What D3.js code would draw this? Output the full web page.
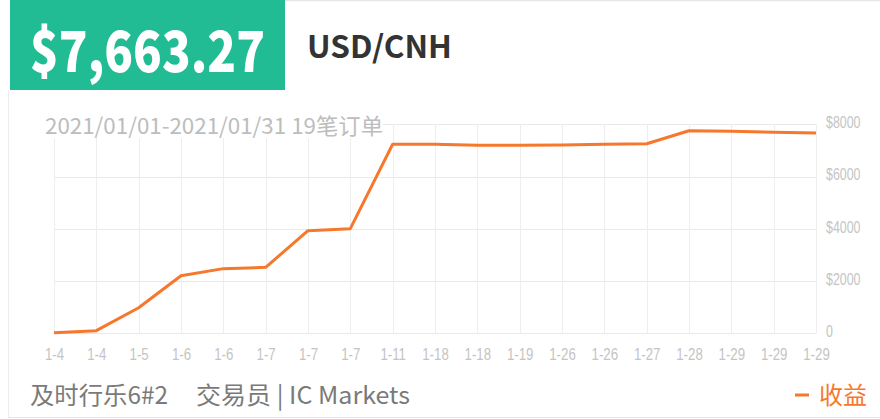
<!DOCTYPE html>
<html>
<head>
<meta charset="utf-8">
<script src="https://cdn.jsdelivr.net/npm/d3@7/dist/d3.min.js"></script>
<style>
  html, body { margin: 0; padding: 0; background: #fff; }
  svg { display: block; }
</style>
</head>
<body>
<svg id="chart" width="880" height="419"></svg>
<script>
// Cumulative profit per closed order, January 2021
const dateLabels = ["1-4","1-4","1-5","1-6","1-6","1-7","1-7","1-7","1-11","1-18",
                    "1-18","1-19","1-26","1-26","1-27","1-28","1-29","1-29","1-29"];
const profitValues = [25, 100, 980, 2205, 2475, 2525, 3930, 4005, 7235, 7240,
                      7195, 7195, 7210, 7235, 7255, 7755, 7730, 7695, 7663.27];
const yTicks = [0, 2000, 4000, 6000, 8000];
const yTickLabels = ["0", "$2000", "$4000", "$6000", "$8000"];
const totalLabel = "$7,663.27";
const symbolLabel = "USD/CNH";
const rangeLabel = "2021/01/01-2021/01/31 19笔订单";
const traderName = "及时行乐6#2";
const traderRole = "交易员 | IC Markets";
const legendLabel = "收益";

const svg = d3.select("#chart");
const CJK = "'Noto Sans CJK SC', 'Noto Sans', sans-serif";
const TICK = "'Liberation Sans', Arial, sans-serif";
const ORANGE = "#f5782d";

// card frame
svg.append("line").attr("x1", 285).attr("x2", 880).attr("y1", 0.5).attr("y2", 0.5)
  .attr("stroke", "#e6e6e6").attr("stroke-width", 1.5);
svg.append("line").attr("x1", 8.5).attr("x2", 8.5).attr("y1", 90).attr("y2", 417.5)
  .attr("stroke", "#ececec");
svg.append("line").attr("x1", 8).attr("x2", 880).attr("y1", 417.5).attr("y2", 417.5)
  .attr("stroke", "#e6e6e6");

// header
svg.append("rect").attr("x", 10).attr("y", 0).attr("width", 275).attr("height", 90)
  .attr("fill", "#21bc93");
svg.append("text").attr("x", 30).attr("y", 72)
  .attr("font-family", CJK).attr("font-weight", 900).attr("font-size", 57)
  .attr("textLength", 235).attr("lengthAdjust", "spacingAndGlyphs")
  .attr("fill", "#fff").text(totalLabel);
svg.append("text").attr("x", 307).attr("y", 58)
  .attr("font-family", CJK).attr("font-weight", 700).attr("font-size", 31)
  .attr("textLength", 145).attr("lengthAdjust", "spacingAndGlyphs")
  .attr("fill", "#333").text(symbolLabel);

// scales
const x = d3.scalePoint().domain(d3.range(dateLabels.length)).range([54, 816]);
const y = d3.scaleLinear().domain([0, 8000]).range([333.3, 124.3]);

// grid
const grid = svg.append("g");
grid.selectAll("line.h").data(yTicks).join("line")
  .attr("x1", 54).attr("x2", 816)
  .attr("y1", d => Math.round(y(d)) + 0.5).attr("y2", d => Math.round(y(d)) + 0.5)
  .attr("stroke", "#e9e9e9");
grid.selectAll("line.v").data(d3.range(dateLabels.length)).join("line")
  .attr("x1", i => Math.round(x(i)) + 0.5).attr("x2", i => Math.round(x(i)) + 0.5)
  .attr("y1", y(8000)).attr("y2", y(0))
  .attr("stroke", "#eeeeee");

// right axis labels (condensed)
const yAxis = d3.axisRight(y).tickValues(yTicks)
  .tickFormat((d, i) => yTickLabels[i]).tickSize(0).tickPadding(0);
const ya = svg.append("g").attr("transform", "translate(826,-2)").call(yAxis);
ya.select(".domain").remove();
ya.selectAll("text").attr("font-family", TICK).attr("font-size", 16.5)
  .attr("transform", "scale(0.75,1)").attr("fill", "#c4c4c4");

// bottom axis labels (condensed)
const xAxis = d3.axisBottom(x).tickFormat(i => dateLabels[i]).tickSize(0).tickPadding(0);
const xa = svg.append("g").attr("transform", "translate(0,360)").call(xAxis);
xa.select(".domain").remove();
xa.selectAll("text").attr("font-family", TICK).attr("font-size", 17)
  .attr("y", 0).attr("dy", 0)
  .attr("transform", "scale(0.78,1)").attr("fill", "#c4c4c4");

// range caption over the top of the grid
svg.append("rect").attr("x", 44).attr("y", 100).attr("width", 339).attr("height", 38)
  .attr("fill", "#fff");
svg.append("text").attr("x", 45).attr("y", 134)
  .attr("font-family", CJK).attr("font-size", 22).attr("fill", "#bdbdbd")
  .attr("textLength", 338).attr("lengthAdjust", "spacingAndGlyphs")
  .text(rangeLabel);

// profit line
const line = d3.line().x((d, i) => x(i)).y(d => y(d));
svg.append("path").datum(profitValues).attr("d", line)
  .attr("fill", "none").attr("stroke", ORANGE).attr("stroke-width", 3)
  .attr("stroke-linejoin", "round");

// footer
svg.append("text").attr("x", 30).attr("y", 404)
  .attr("font-family", CJK).attr("font-size", 24).attr("fill", "#7a7a7a")
  .attr("textLength", 138).attr("lengthAdjust", "spacingAndGlyphs")
  .text(traderName);
svg.append("text").attr("x", 196).attr("y", 404)
  .attr("font-family", CJK).attr("font-size", 24).attr("fill", "#7a7a7a")
  .attr("textLength", 214).attr("lengthAdjust", "spacingAndGlyphs")
  .text(traderRole);
svg.append("line").attr("x1", 795).attr("x2", 809).attr("y1", 395).attr("y2", 395)
  .attr("stroke", ORANGE).attr("stroke-width", 3);
svg.append("text").attr("x", 819).attr("y", 404)
  .attr("font-family", CJK).attr("font-size", 24).attr("fill", ORANGE)
  .text(legendLabel);
</script>
</body>
</html>
